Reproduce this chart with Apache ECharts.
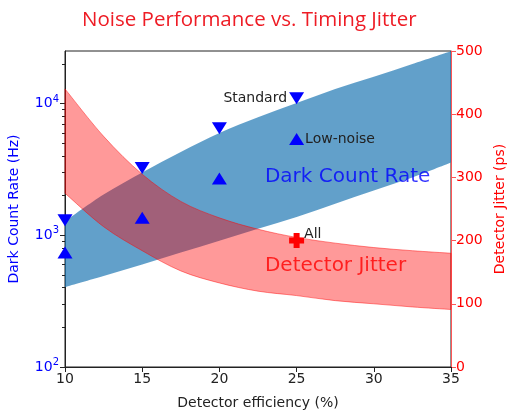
<!DOCTYPE html>
<html>
<head>
<meta charset="utf-8">
<script src="https://cdn.jsdelivr.net/npm/echarts@6/dist/echarts.min.js"></script>
<style>
  html, body { margin: 0; padding: 0; background: #fff; }
  #chart { width: 508px; height: 411px; }
</style>
</head>
<body>
<div id="chart"></div>
<script>
// detector efficiency (%) sample points used for the shaded bands
const effGrid = [10, 12.5, 15, 17.5, 20, 22.5, 25, 27.5, 30, 32.5, 35];

// dark count rate band (Hz, log axis)
const dcrLow  = [404, 490, 600, 740, 910, 1120, 1380, 1740, 2190, 2750, 3570];
const dcrHigh = [1280, 2040, 3000, 4300, 6000, 7900, 10100, 12900, 16000, 20000, 25000];

// detector jitter band (ps, right axis)
const jitLow  = [275, 222, 184, 152, 133, 120, 113, 105, 100, 95, 91];
const jitHigh = [440, 365, 305, 262, 236, 218, 205, 196, 189, 184, 180];

// measured devices
const devEff = [10, 15, 20, 25];
const standardDcr = [1300, 3250, 6500, 11000];
const lowNoiseDcr = [740, 1360, 2700, 5400];
const allPoint = [25, 200];

const leftMajor = [100, 1000, 10000];
const leftMinor = [200, 300, 400, 500, 600, 700, 800, 900,
                   2000, 3000, 4000, 5000, 6000, 7000, 8000, 9000, 20000];

const FONT = 'DejaVu Sans';
const pairs = (xs, ys) => xs.map((x, i) => [x, ys[i]]);

// catmull-rom through pixel points -> svg path commands
function curveThrough(pts, start) {
  let d = start ? 'M' + pts[0][0] + ',' + pts[0][1] : 'L' + pts[0][0] + ',' + pts[0][1];
  for (let i = 0; i < pts.length - 1; i++) {
    const p0 = pts[i - 1] || pts[i];
    const p1 = pts[i];
    const p2 = pts[i + 1];
    const p3 = pts[i + 2] || p2;
    const c1 = [p1[0] + (p2[0] - p0[0]) / 6, p1[1] + (p2[1] - p0[1]) / 6];
    const c2 = [p2[0] - (p3[0] - p1[0]) / 6, p2[1] - (p3[1] - p1[1]) / 6];
    d += 'C' + c1[0] + ',' + c1[1] + ' ' + c2[0] + ',' + c2[1] + ' ' + p2[0] + ',' + p2[1];
  }
  return d;
}

function bandSeries(yAxisIndex, lo, hi, fill, stroke) {
  return {
    type: 'custom',
    yAxisIndex: yAxisIndex,
    silent: true,
    data: [[effGrid[0], lo[0]]],
    renderItem: function (params, api) {
      const top = effGrid.map((x, i) => api.coord([x, hi[i]]));
      const bot = effGrid.map((x, i) => api.coord([x, lo[i]])).reverse();
      const d = curveThrough(top, true) + curveThrough(bot, false) + 'Z';
      return {
        type: 'path',
        shape: { pathData: d },
        style: { fill: fill, stroke: stroke || null, lineWidth: stroke ? 1 : 0 }
      };
    }
  };
}

const chart = echarts.init(document.getElementById('chart'), null, { renderer: 'canvas' });

const labelStyle = { color: '#222', fontSize: 14, fontFamily: FONT };

const option = {
  animation: false,
  title: {
    text: 'Noise Performance vs. Timing Jitter',
    left: 77,
    top: 5,
    textStyle: { color: '#ee1c25', fontSize: 20.5, fontWeight: 'normal', fontFamily: 'Open Sans' }
  },
  grid: {
    left: 65, right: 57, top: 51, bottom: 44,
    outerBoundsMode: 'none',
    show: true, borderColor: '#222', borderWidth: 1, backgroundColor: 'transparent'
  },
  xAxis: {
    type: 'value',
    min: 10, max: 35, interval: 5,
    name: 'Detector efficiency (%)',
    nameLocation: 'middle',
    nameGap: 29,
    nameTextStyle: { color: '#222', fontSize: 14, fontFamily: FONT },
    axisLine: { lineStyle: { color: '#222' } },
    axisTick: { length: 5, lineStyle: { color: '#222' } },
    axisLabel: { color: '#222', fontSize: 14, fontFamily: FONT, margin: 5 },
    splitLine: { show: false }
  },
  yAxis: [
    {
      type: 'log',
      logBase: 10,
      min: 100, max: 25119,
      position: 'left',
      name: 'Dark Count Rate (Hz)',
      nameLocation: 'middle',
      nameGap: 44,
      nameTextStyle: { color: '#0000ff', fontSize: 14, fontFamily: FONT },
      axisLine: { show: true, lineStyle: { color: '#222' } },
      axisTick: { show: true, length: 5, customValues: leftMajor, lineStyle: { color: '#222' } },
      axisLabel: {
        customValues: leftMajor,
        margin: 6,
        formatter: v => '{b|10}{s|' + Math.round(Math.log10(v)) + '}',
        rich: {
          b: { color: '#0000ff', fontSize: 14, fontFamily: FONT },
          s: { color: '#0000ff', fontSize: 10, fontFamily: FONT, verticalAlign: 'bottom', padding: [0, 0, 9, 0] }
        }
      },
      splitLine: { show: false }
    },
    {
      type: 'value',
      min: 0, max: 500, interval: 100,
      position: 'right',
      name: 'Detector Jitter (ps)',
      nameLocation: 'middle',
      nameGap: 40,
      nameRotate: 90,
      nameTextStyle: { color: '#ff0000', fontSize: 14, fontFamily: FONT },
      axisLine: { show: true, lineStyle: { color: '#ff5555' } },
      axisTick: { show: true, length: 5, lineStyle: { color: '#ff5555' } },
      axisLabel: { color: '#ff0000', fontSize: 14, fontFamily: FONT, margin: 5 },
      splitLine: { show: false }
    },
    {
      // minor ticks for the log axis
      type: 'log',
      logBase: 10,
      min: 100, max: 25119,
      position: 'left',
      axisLine: { show: false },
      axisTick: { show: true, length: 3, customValues: leftMinor, lineStyle: { color: '#222' } },
      axisLabel: { show: false },
      splitLine: { show: false }
    }
  ],
  series: [
    bandSeries(0, dcrLow, dcrHigh, 'rgba(31,119,180,0.7)', null),
    {
      name: 'Standard',
      type: 'scatter',
      yAxisIndex: 0,
      symbol: 'triangle',
      symbolRotate: 180,
      symbolSize: [15, 12],
      itemStyle: { color: '#0000ff', opacity: 1 },
      data: pairs(devEff, standardDcr).map((p, i) => i === 3
        ? { value: p, label: Object.assign({ show: true, formatter: 'Standard', position: 'left', distance: 2 }, labelStyle) }
        : p)
    },
    {
      name: 'Low-noise',
      type: 'scatter',
      yAxisIndex: 0,
      symbol: 'triangle',
      symbolSize: [15, 12],
      itemStyle: { color: '#0000ff', opacity: 1 },
      data: pairs(devEff, lowNoiseDcr).map((p, i) => i === 3
        ? { value: p, label: Object.assign({ show: true, formatter: 'Low-noise', position: 'right', distance: 1 }, labelStyle) }
        : p)
    },
    bandSeries(1, jitLow, jitHigh, 'rgba(255,0,0,0.4)', 'rgba(255,0,0,0.45)'),
    {
      name: 'All',
      type: 'scatter',
      yAxisIndex: 1,
      symbol: 'path://M3,0 L7,0 L7,3 L10,3 L10,7 L7,7 L7,10 L3,10 L3,7 L0,7 L0,3 L3,3 Z',
      symbolSize: 15,
      itemStyle: { color: '#ff0000', opacity: 1 },
      label: Object.assign({ show: true, formatter: 'All', position: 'right', distance: 0, offset: [0, -6] }, labelStyle),
      data: [allPoint]
    },
    {
      name: 'bandLabels',
      type: 'scatter',
      yAxisIndex: 0,
      symbolSize: 0,
      silent: true,
      data: [
        { value: [22.95, 2800], label: { show: true, formatter: 'Dark Count Rate', position: 'right', distance: 0, color: '#0000ff', fontSize: 20, fontFamily: FONT } }
      ]
    },
    {
      name: 'bandLabels2',
      type: 'scatter',
      yAxisIndex: 1,
      symbolSize: 0,
      silent: true,
      data: [
        { value: [22.95, 160], label: { show: true, formatter: 'Detector Jitter', position: 'right', distance: 0, color: '#ff0000', fontSize: 20, fontFamily: FONT } }
      ]
    }
  ]
};

chart.setOption(option);
</script>
</body>
</html>
